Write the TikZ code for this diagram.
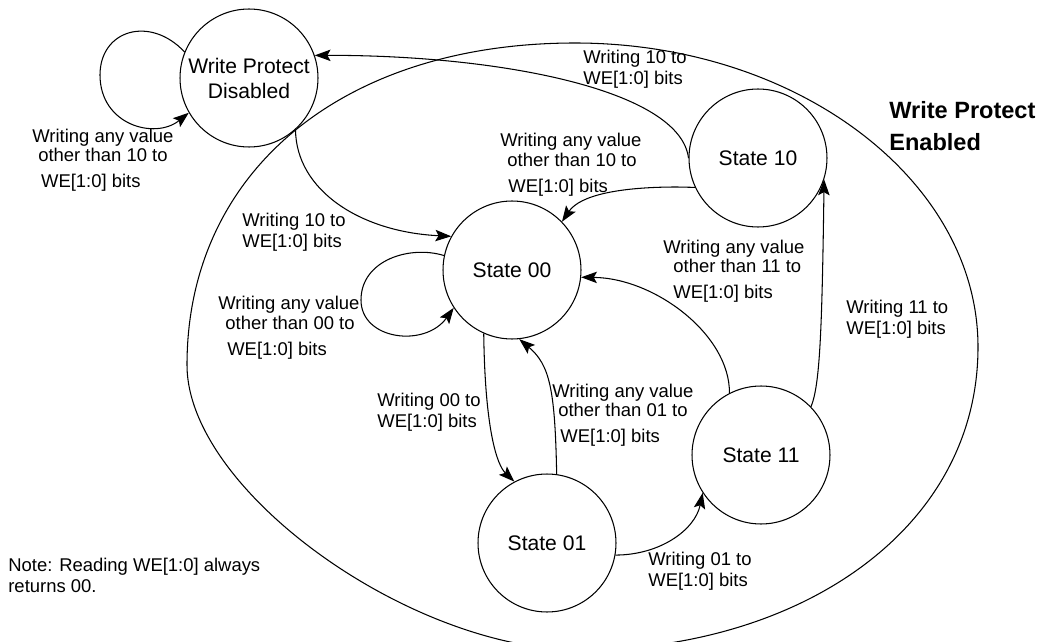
\documentclass[tikz,border=0pt]{standalone}
\usepackage{fontspec}
\setmainfont{Liberation Sans}
\usetikzlibrary{arrows.meta}
\begin{document}
\begin{tikzpicture}[x=0.02cm,y=-0.02cm,
  state/.style={draw, circle, line width=0.6pt, minimum size=2.76cm, inner sep=0pt, align=center, font=\fontsize{12}{14.2}\selectfont},
  edge/.style={draw, line width=0.6pt, -{Stealth[length=9pt,width=6.5pt,inset=1.8pt]}},
  plain/.style={draw, line width=0.6pt},
  lbl/.style={inner sep=0pt, anchor=west, align=left, font=\fontsize{10.5}{11.9}\selectfont},
  lblthree/.style={inner sep=0pt, anchor=west, align=left, font=\fontsize{10.5}{11.1}\selectfont},
  title/.style={inner sep=0pt, anchor=west, align=left, font=\fontsize{13.4}{18.2}\selectfont\bfseries},
]
\useasboundingbox (0,0) rectangle (1039,642);

% enclosing region "Write Protect Enabled"
\draw[plain] (187,365) .. controls (187,172) and (342,43) .. (575,43)
  .. controls (797,43) and (978,180) .. (978,347)
  .. controls (978,530) and (799,650) .. (580,650)
  .. controls (410,650) and (187,490) .. (187,365);

% states
\node[state] (wpd) at (249,78) {Write Protect\\Disabled};
\node[state] (s10) at (758,158) {State 10};
\node[state] (s00) at (512,270) {State 00};
\node[state] (s01) at (547,543) {State 01};
\node[state] (s11) at (761,455) {State 11};

% transitions
\draw[edge] (wpd.158) .. controls (150,15) and (100,30) .. (100,75)
  .. controls (100,125) and (155,140) .. (wpd.210);
\draw[edge] (s10.180) .. controls (680,90) and (500,55) .. (wpd.19);
\draw[edge] (wpd.312) .. controls (296,190) and (360,232) .. (s00.151);
\draw[edge] (s00.168) .. controls (410,245) and (361,260) .. (361,300)
  .. controls (361,340) and (425,348) .. (s00.213);
\draw[edge] (s00.246) .. controls (485,430) and (497,465) .. (s01.118);
\draw[edge] (s01.82) .. controls (555,390) and (550,365) .. (s00.276);
\draw[edge] (s01.350) .. controls (660,555) and (695,530) .. (s11.213);
\draw[edge] (s11.117) .. controls (730,335) and (655,278) .. (s00.354);
\draw[edge] (s11.44) .. controls (820,385) and (822,330) .. (s10.342);
\draw[edge] (s10.205) -- (677,187) .. controls (620,187) and (580,195) .. (s00.44);

% labels
\node[lblthree] (l1) at (32,160) {Writing any value\\\hspace*{3.4pt}other than 10 to\\[3.7pt]\hspace*{5pt}WE[1:0] bits};
\node[lbl] (l2) at (583,69.5) {Writing 10 to\\WE[1:0] bits};
\node[lbl] (l3) at (242,232.5) {Writing 10 to\\WE[1:0] bits};
\node[lblthree] (l4) at (500,164.5) {Writing any value\\\hspace*{4pt}other than 10 to\\[3.7pt]\hspace*{4.6pt}WE[1:0] bits};
\node[lblthree] (l5) at (218,327.5) {Writing any value\\\hspace*{4pt}other than 00 to\\[3.7pt]\hspace*{5.1pt}WE[1:0] bits};
\node[lblthree] (l6) at (663,271) {Writing any value\\\hspace*{5.7pt}other than 11 to\\[3.7pt]\hspace*{5.7pt}WE[1:0] bits};
\node[lblthree] (l7) at (552,415) {Writing any value\\\hspace*{3.4pt}other than 01 to\\[3.7pt]\hspace*{4.6pt}WE[1:0] bits};
\node[lbl] (l8) at (377,412) {Writing 00 to\\WE[1:0] bits};
\node[lbl] (l9) at (648,571) {Writing 01 to\\WE[1:0] bits};
\node[lbl] (l10) at (846,319.5) {Writing 11 to\\WE[1:0] bits};
\node[title] (wpe) at (889,126) {Write Protect\\Enabled};
\node[lbl] (note) at (8,575.5) {Note: Reading WE[1:0] always\\returns 00.};
\end{tikzpicture}
\end{document}
